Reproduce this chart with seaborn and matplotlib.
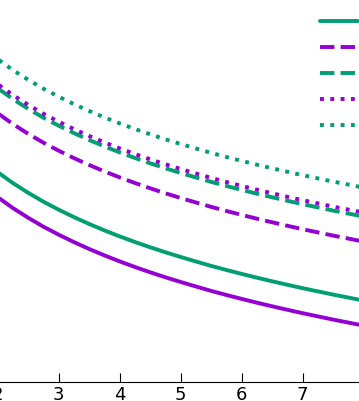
import numpy as np
import pandas as pd
import matplotlib
matplotlib.use("Agg")
import matplotlib.pyplot as plt
import seaborn as sns

# ── Datos (unidades arbitrarias) ──────────────────────────────────────────────
x_vals = [2.0, 2.25, 2.5, 2.75, 3.0, 3.25, 3.5, 3.75, 4.0, 4.25, 4.5, 4.75, 5.0,
          5.25, 5.5, 5.75, 6.0, 6.25, 6.5, 6.75, 7.0, 7.25, 7.5, 7.75, 8.0]

solid_purple = [1.848, 1.739, 1.642, 1.553, 1.473, 1.399, 1.330, 1.266, 1.206,
                1.150, 1.097, 1.047, 1.000, 0.955, 0.911, 0.870, 0.831, 0.793,
                0.757, 0.722, 0.688, 0.656, 0.624, 0.594, 0.564]
solid_green = [2.098, 1.989, 1.892, 1.803, 1.723, 1.649, 1.580, 1.516, 1.456,
               1.400, 1.347, 1.297, 1.250, 1.205, 1.161, 1.120, 1.081, 1.043,
               1.007, 0.972, 0.938, 0.906, 0.874, 0.844, 0.814]
dashed_purple = [2.688, 2.579, 2.482, 2.393, 2.313, 2.239, 2.170, 2.106, 2.046,
                 1.990, 1.937, 1.887, 1.840, 1.795, 1.751, 1.710, 1.671, 1.633,
                 1.597, 1.562, 1.528, 1.496, 1.464, 1.434, 1.404]
dashed_green = [2.938, 2.829, 2.732, 2.643, 2.563, 2.489, 2.420, 2.356, 2.296,
                2.240, 2.187, 2.137, 2.090, 2.045, 2.001, 1.960, 1.921, 1.883,
                1.847, 1.812, 1.778, 1.746, 1.714, 1.684, 1.654]
dotted_purple = [2.978, 2.869, 2.772, 2.683, 2.603, 2.529, 2.460, 2.396, 2.336,
                 2.280, 2.227, 2.177, 2.130, 2.085, 2.041, 2.000, 1.961, 1.923,
                 1.887, 1.852, 1.818, 1.786, 1.754, 1.724, 1.694]
dotted_green = [3.228, 3.119, 3.022, 2.933, 2.853, 2.779, 2.710, 2.646, 2.586,
                2.530, 2.477, 2.427, 2.380, 2.335, 2.291, 2.250, 2.211, 2.173,
                2.137, 2.102, 2.068, 2.036, 2.004, 1.974, 1.944]

labels = ["serie 1", "serie 2", "serie 3", "serie 4", "serie 5", "serie 6"]
x_ticks = [2, 3, 4, 5, 6, 7, 8]

PURPLE = "#9400D3"
GREEN = "#009E73"

# ── Figura ────────────────────────────────────────────────────────────────────
sns.set_theme(style="ticks")
plt.rcParams["font.family"] = ["DejaVu Sans"]

fig = plt.figure(figsize=(3.59, 4.01), dpi=100)
# el recorte original: x=2 cae justo fuera del borde izquierdo
ax = fig.add_axes([-2.3 / 359, 19 / 401, 366 / 359, 400 / 401])

series = [
    (solid_purple, PURPLE, "-"),
    (solid_green, GREEN, "-"),
    (dashed_purple, PURPLE, "--"),
    (dashed_green, GREEN, "--"),
    (dotted_purple, PURPLE, ":"),
    (dotted_green, GREEN, ":"),
]

for (vals, color, ls), label in zip(series, labels):
    df = pd.DataFrame({"x": x_vals, "y": vals})
    sns.lineplot(data=df, x="x", y="y", ax=ax, color=color, linestyle=ls,
                 linewidth=2.8, label=label)

ax.set_xlim(2, 8)
ax.set_ylim(0, 4.0)
ax.set_xticks(x_ticks)
ax.set_yticks([])
ax.set_xlabel("")
ax.set_ylabel("")
ax.tick_params(axis="x", direction="in", length=6.5, width=0.8,
               labelsize=13, pad=3, colors="black")
for side in ["left", "right", "top"]:
    ax.spines[side].set_visible(False)
ax.spines["bottom"].set_linewidth(0.8)
ax.spines["bottom"].set_color("black")

ax.legend(loc="upper left", bbox_to_anchor=(306.2 / 359, 1 + 25 / 401),
          bbox_transform=fig.transFigure, frameon=False, fontsize=11,
          handlelength=2.5, labelspacing=0.71)

plt.savefig("out.png", dpi=100)
